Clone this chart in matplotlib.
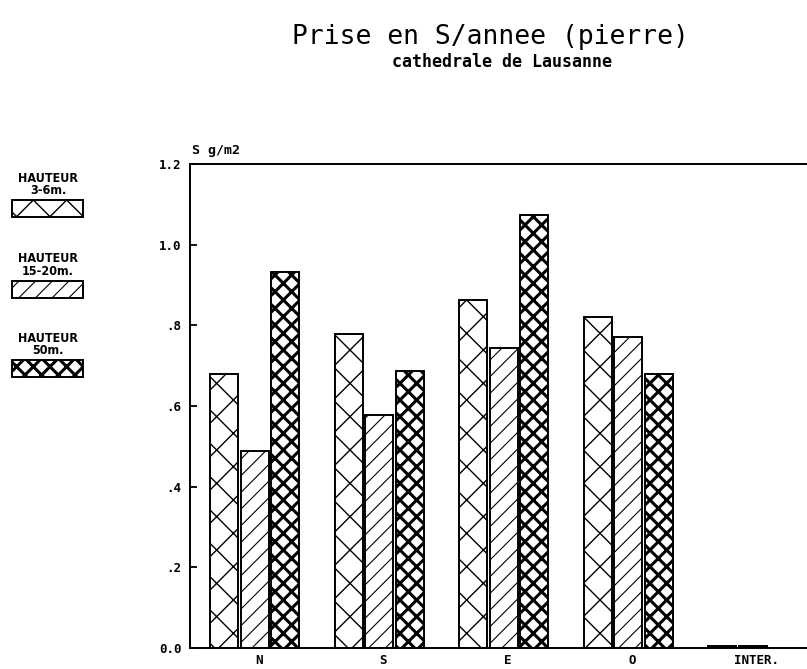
import numpy as np
import matplotlib
matplotlib.use('Agg')
import matplotlib.pyplot as plt
from matplotlib.patches import Rectangle

# values (S g/m2)
faces = ['N', 'S', 'E', 'O', 'INTER.']
h_3_6 = [0.680, 0.779, 0.864, 0.821, 0.006]
h_15_20 = [0.489, 0.578, 0.744, 0.772, 0.004]
h_50 = [0.933, 0.687, 1.074, 0.680, 0.0]
series_labels = ['HAUTEUR\n3-6m.', 'HAUTEUR\n15-20m.', 'HAUTEUR\n50m.']
yticks = [0.0, 0.2, 0.4, 0.6, 0.8, 1.0, 1.2]
ytick_labels = ['0.0', '.2', '.4', '.6', '.8', '1.0', '1.2']

mono = ['DejaVu Sans Mono', 'DejaVu Sans']
W, H = 807, 669

fig = plt.figure(figsize=(W / 100, H / 100), dpi=100)
ax = fig.add_axes([190 / W, 21 / H, 1 - 190 / W, (648 - 164) / H])

x = np.arange(len(faces))
bw = 0.225
step = 0.245
hatches = ['x', '//', 'xx']
hlw = [1.0, 0.8, 2.2]
series = [h_3_6, h_15_20, h_50]

for k, (vals, hatch) in enumerate(zip(series, hatches)):
    with plt.rc_context({'hatch.linewidth': hlw[k]}):
        bars = ax.bar(x + (k - 1) * step, vals, bw, color='white',
                      edgecolor='black', linewidth=1.4, hatch=hatch)
        for b in bars:
            try:
                b.set_hatch_linewidth(hlw[k])
            except AttributeError:
                pass

ax.set_xlim(-0.522, 4.434)
ax.set_ylim(0, 1.2)
ax.set_yticks(yticks)
ax.set_yticklabels(ytick_labels, family=mono, weight='bold', fontsize=9)
ax.set_xticks(x + 0.03)
ax.set_xticklabels(faces, family=mono, weight='bold', fontsize=9)
ax.tick_params(axis='y', direction='in', length=5, width=1.3, pad=6)
ax.tick_params(axis='x', length=0, pad=4)
ax.spines['right'].set_visible(False)
for s in ['left', 'top', 'bottom']:
    ax.spines[s].set_linewidth(1.4)

fig.text(192 / W, 1 - 157 / H, 'S g/m2', family=mono, weight='bold',
         fontsize=9.5, ha='left', va='bottom')

fig.text(490 / W, 1 - 37 / H, 'Prise en S/annee (pierre)', family=mono,
         fontsize=19, ha='center', va='center')
fig.text(502 / W, 1 - 62 / H, 'cathedrale de Lausanne', family=mono,
         weight='bold', fontsize=12, ha='center', va='center')

# legend drawn by hand: text above each swatch
box_tops = [200, 281, 360]
for k in range(3):
    top = box_tops[k]
    with plt.rc_context({'hatch.linewidth': hlw[k]}):
        r = Rectangle((12 / W, 1 - (top + 17) / H), 71 / W, 17 / H,
                      transform=fig.transFigure, facecolor='white',
                      edgecolor='black', linewidth=1.4, hatch=hatches[k])
        try:
            r.set_hatch_linewidth(hlw[k])
        except AttributeError:
            pass
        fig.add_artist(r)
    fig.text(48 / W, 1 - (top - 3) / H, series_labels[k], family='DejaVu Sans',
             stretch='condensed', weight='bold', fontsize=9, ha='center',
             va='bottom', linespacing=0.95)

fig.savefig('out.png', dpi=100)
